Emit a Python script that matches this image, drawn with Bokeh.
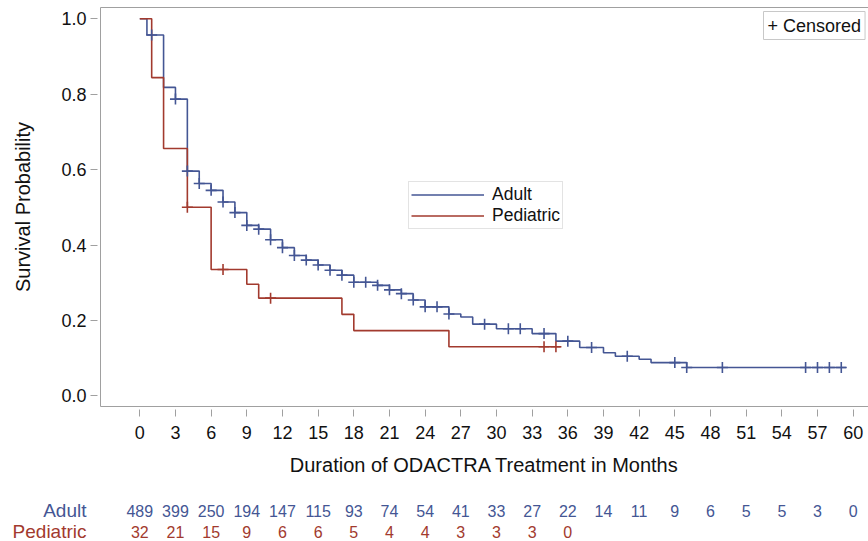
import numpy as np
from bokeh.plotting import figure
from bokeh.layouts import column
from bokeh.core.properties import value
from bokeh.models import (Range1d, FixedTicker, LinearAxis, Legend, LegendItem,
                          Label, PrintfTickFormatter)
from bokeh.embed import file_html
from bokeh.resources import INLINE

# ---- data ----
adult_t = [0, 0.6, 2, 3, 4, 5, 6, 7, 8, 9, 10, 11, 12, 13, 14, 15, 16, 17, 18,
           20, 21, 22, 23, 24, 26, 27, 28, 30, 33, 35, 37, 39, 40, 42, 43, 46, 59.4]
adult_s = [1.0, 0.957, 0.818, 0.787, 0.596, 0.563, 0.545, 0.514, 0.486, 0.452,
           0.442, 0.414, 0.393, 0.372, 0.360, 0.347, 0.333, 0.320, 0.301,
           0.293, 0.281, 0.271, 0.254, 0.236, 0.217, 0.209, 0.190, 0.178, 0.165,
           0.145, 0.128, 0.114, 0.105, 0.097, 0.088, 0.075, 0.075]
adult_cens = [1, 3, 4, 5, 6, 7, 8, 9, 10, 11, 12, 13, 14, 15, 16, 17, 18, 19, 20,
              21, 22, 23, 24, 25, 26, 29, 31, 32, 34, 36, 38, 41, 45, 46, 49,
              56, 57, 58, 59]

ped_t = [0, 1, 2, 4, 6, 9, 10, 17, 18, 26, 35.4]
ped_s = [1.0, 0.844, 0.656, 0.500, 0.335, 0.296, 0.259, 0.216, 0.173, 0.130, 0.130]
ped_cens = [4, 7, 11, 34, 35]

risk_times_adult = list(range(0, 61, 3))
risk_adult = [489, 399, 250, 194, 147, 115, 93, 74, 54, 41, 33, 27, 22, 14, 11,
              9, 6, 5, 5, 3, 0]
risk_times_ped = list(range(0, 37, 3))
risk_ped = [32, 21, 15, 9, 6, 6, 5, 4, 4, 3, 3, 3, 0]
risk_groups = ["Adult", "Pediatric"]

x_ticks = list(range(0, 61, 3))
y_ticks = [0.0, 0.2, 0.4, 0.6, 0.8, 1.0]

BLUE = "#445694"
RED = "#A23A2E"
AXIS = "#A0A0A0"
TXT = "#111111"
FONT = "Liberation Sans"

W = 868
LEFT = 100
X0, X1 = -3.305, 61.29


def step_lookup(times, surv, pts):
    idx = np.searchsorted(np.array(times), np.array(pts, dtype=float), side="right") - 1
    return [surv[i] for i in idx]


p = figure(width=W, height=490, output_backend="svg", toolbar_location=None,
           x_range=Range1d(X0, X1), y_range=Range1d(-0.0284, 1.030),
           min_border_left=LEFT, min_border_right=0, min_border_top=7,
           min_border_bottom=84)
p.frame_align = False
p.outline_line_color = None
p.xgrid.visible = False
p.ygrid.visible = False

# curves
r_adult = p.step(adult_t, adult_s, mode="after", line_color=BLUE, line_width=1.6)
r_ped = p.step(ped_t, ped_s, mode="after", line_color=RED, line_width=1.6)
p.scatter(adult_cens, step_lookup(adult_t, adult_s, adult_cens), marker="cross",
          size=11, line_color=BLUE, line_width=1.6)
p.scatter(ped_cens, step_lookup(ped_t, ped_s, ped_cens), marker="cross",
          size=11, line_color=RED, line_width=1.6)

# axes
for ax in (p.xaxis[0], p.yaxis[0]):
    ax.axis_line_color = AXIS
    ax.major_tick_line_color = AXIS
    ax.major_tick_in = -3
    ax.major_tick_out = 10
    ax.minor_tick_line_color = None
    ax.major_label_text_font = FONT
    ax.major_label_text_font_size = "18px"
    ax.major_label_text_color = TXT
    ax.axis_label_text_font = FONT
    ax.axis_label_text_font_size = "20px"
    ax.axis_label_text_font_style = "normal"
    ax.axis_label_text_color = TXT

p.xaxis.ticker = FixedTicker(ticks=x_ticks)
p.yaxis.ticker = FixedTicker(ticks=y_ticks)
p.yaxis.formatter = PrintfTickFormatter(format="%.1f")
p.xaxis.axis_label = "Duration of ODACTRA Treatment in Months"
p.yaxis.axis_label = "Survival Probability"
p.xaxis.major_label_standoff = 9
p.yaxis.major_label_standoff = 4
p.xaxis.axis_label_standoff = 12
p.yaxis.axis_label_standoff = 24

top = LinearAxis(ticker=FixedTicker(ticks=[]), axis_line_color=AXIS,
                 major_tick_in=0, major_tick_out=0, minor_tick_in=0,
                 minor_tick_out=0, major_label_standoff=0,
                 major_label_text_font_size="0px", axis_label_standoff=0)
p.add_layout(top, "above")

# legend
legend = Legend(items=[LegendItem(label="Adult", renderers=[r_adult]),
                       LegendItem(label="Pediatric", renderers=[r_ped])],
                location=(308, 177), margin=0, padding=2, spacing=0,
                glyph_width=73, glyph_height=19, label_height=19,
                label_standoff=8, label_text_font=FONT,
                label_text_font_size="17.5px", label_text_color=TXT,
                label_text_line_height=1.0,
                border_line_color="#C8C8C8", border_line_width=1,
                background_fill_color="white", background_fill_alpha=1.0)
p.add_layout(legend, "center")

p.add_layout(Label(x=663, y=381, x_units="screen", y_units="screen",
                   text="+ Censored", text_font=FONT, text_font_size="18px",
                   text_baseline="middle", text_color=TXT,
                   border_line_color="#C8C8C8", background_fill_color="white",
                   padding=4))

# ---- at-risk table (separate strip, frame spanning full width) ----
ppm = (W - LEFT) / (X1 - X0)          # pixels per month in the main frame
T0 = X0 - LEFT / ppm                  # month value at the left page edge
t2 = figure(width=W, height=51, output_backend="svg", toolbar_location=None,
            x_range=Range1d(T0, X1), y_range=Range1d(51, 0),
            x_axis_type=None, y_axis_type=None, min_border=0,
            min_border_left=0, min_border_right=0, min_border_top=0,
            min_border_bottom=0)
t2.frame_align = False
t2.outline_line_color = None
t2.xgrid.visible = False
t2.ygrid.visible = False

ROW_Y = [20, 41]
t2.text(x=risk_times_adult, y=[ROW_Y[0]] * len(risk_adult),
        text=[str(v) for v in risk_adult], text_align="center",
        text_baseline="middle", text_font=value(FONT),
        text_font_size=value("16px"), text_color=BLUE)
t2.text(x=risk_times_ped, y=[ROW_Y[1]] * len(risk_ped),
        text=[str(v) for v in risk_ped], text_align="center",
        text_baseline="middle", text_font=value(FONT),
        text_font_size=value("16px"), text_color=RED)
lab_x = T0 + 86 / ppm
t2.text(x=[lab_x, lab_x], y=ROW_Y, text=risk_groups, text_align="right",
        text_baseline="middle", text_font=value(FONT),
        text_font_size=value("19px"), text_color=[BLUE, RED])

layout = column(p, t2, spacing=0)
open("out.html", "w").write(file_html(layout, INLINE))
